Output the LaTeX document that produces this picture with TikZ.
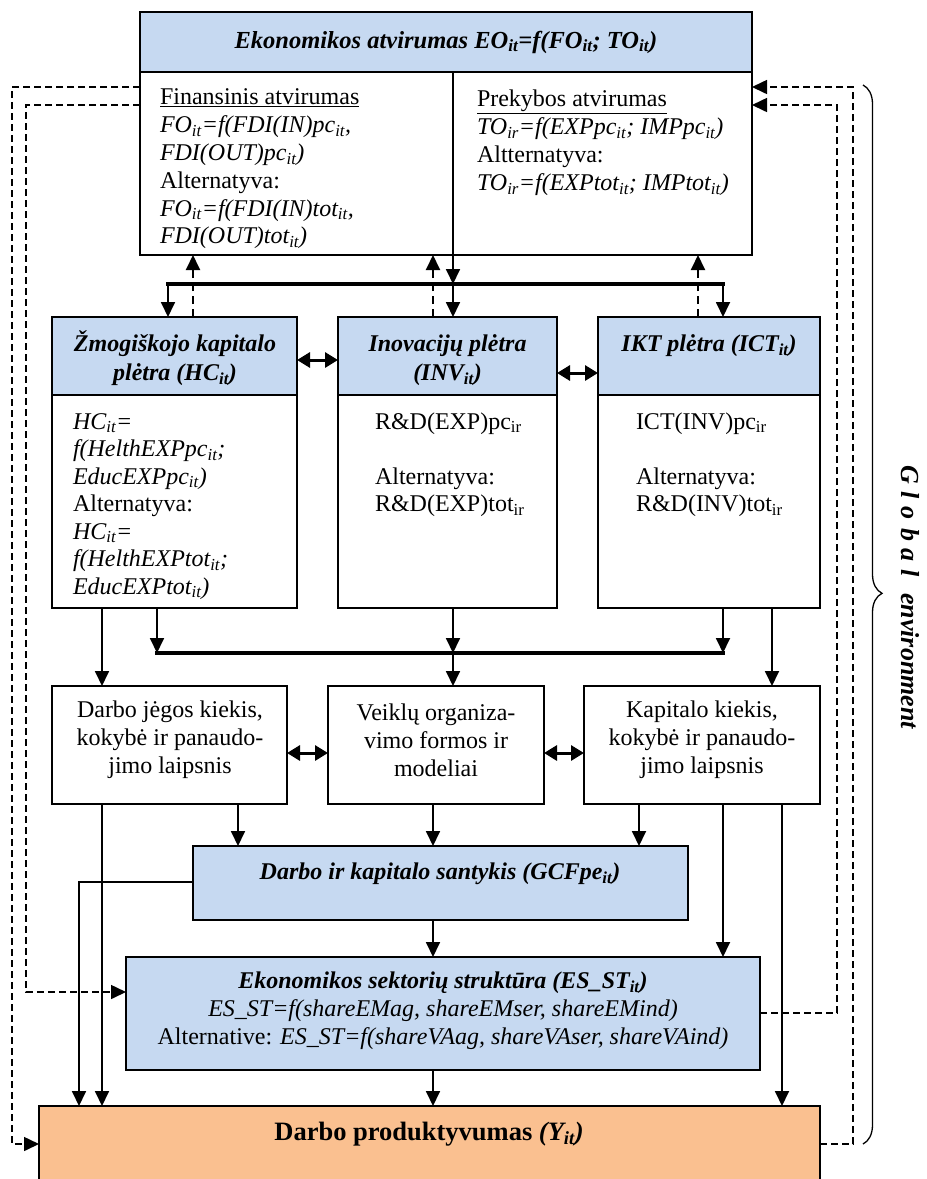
\documentclass[tikz,border=0pt]{standalone}
\usepackage{fontspec}
\setmainfont{Liberation Serif}
\usetikzlibrary{arrows.meta,decorations.pathreplacing,calc}
\definecolor{hblue}{HTML}{C6D9F1}
\definecolor{horange}{HTML}{FAC090}
\newcommand\sbs[1]{\textsubscript{#1}}
\newcommand\bodyf{\fontsize{24}{28}\selectfont}
\begin{document}
\begin{tikzpicture}[x=1pt,y=-1pt,
 box/.style={draw, line width=1.5pt, inner sep=0pt, outer sep=0pt, anchor=north west},
 hdr/.style={box, fill=hblue},
 txt/.style={inner sep=0pt, outer sep=0pt, font=\bodyf},
 arr/.style={line width=1.8pt, -{Triangle[length=15pt,width=14pt]}},
 bus/.style={line width=4pt, line cap=rect},
 dbl/.style={line width=3pt, {Triangle[length=13pt,width=15pt]}-{Triangle[length=13pt,width=15pt]}},
 darr/.style={line width=1.6pt, dash pattern=on 7pt off 4pt, -{Triangle[length=15pt,width=14pt]}},
 dup/.style={line width=2pt, dash pattern=on 8pt off 5pt, -{Triangle[length=15pt,width=14pt]}},
]
\useasboundingbox (0,0) rectangle (927,1179);
\clip (0,0) rectangle (927,1179);

% ---------- boxes ----------
\node[box, minimum width=612, minimum height=243] (EO) at (140,12) {};
\node[hdr, minimum width=612, minimum height=60] (EOh) at (140,12) {};

\node[hdr, minimum width=245, minimum height=78] (HCh) at (52,317) {};
\node[box, minimum width=245, minimum height=213] (HCb) at (52,395) {};
\node[hdr, minimum width=219, minimum height=78] (INVh) at (338,317) {};
\node[box, minimum width=219, minimum height=213] (INVb) at (338,395) {};
\node[hdr, minimum width=222, minimum height=78] (ICTh) at (598,317) {};
\node[box, minimum width=222, minimum height=213] (ICTb) at (598,395) {};

\node[box, minimum width=235, minimum height=118] (DJ) at (52,686) {};
\node[box, minimum width=216, minimum height=118] (VO) at (328,686) {};
\node[box, minimum width=236, minimum height=118] (KK) at (584,686) {};

\node[hdr, minimum width=495, minimum height=74] (GCF) at (193,846) {};
\node[hdr, minimum width=634, minimum height=113] (ES) at (126,957) {};
\node[box, fill=horange, minimum width=781, minimum height=110] (YP) at (39,1106) {};

% ---------- texts ----------
\node[txt, font=\fontsize{24.5}{28}\selectfont\bfseries\itshape] (tEO) at (446,42)
 {Ekonomikos atvirumas EO\sbs{it}=f(FO\sbs{it}; TO\sbs{it})};
\node[txt, anchor=north west, align=left, font=\fontsize{24}{27.8}\selectfont] (tFO) at (160,85.4)
 {\strut\underline{Finansinis atvirumas}\\
  \textit{FO\sbs{it}=f(FDI(IN)pc\sbs{it},}\\
  \textit{FDI(OUT)pc\sbs{it})}\\
  Alternatyva:\\
  \textit{FO\sbs{it}=f(FDI(IN)tot\sbs{it},}\\
  \textit{FDI(OUT)tot\sbs{it})}};
\node[txt, anchor=north west, align=left, font=\fontsize{24}{28.2}\selectfont] (tTO) at (477,86.4)
 {\strut\underline{Prekybos atvirumas}\\
  \textit{TO\sbs{ir}=f(EXPpc\sbs{it}; IMPpc\sbs{it})}\\
  Altternatyva:\\
  \textit{TO\sbs{ir}=f(EXPtot\sbs{it}; IMPtot\sbs{it})}};

\node[txt, anchor=north, align=center, font=\fontsize{24}{29}\selectfont\bfseries\itshape] (tHCh) at (175,331)
 {\strut Žmogiškojo kapitalo\\plėtra (HC\sbs{it})};
\node[txt, anchor=north, align=center, font=\fontsize{24}{29}\selectfont\bfseries\itshape] (tINVh) at (447.5,331)
 {\strut Inovacijų plėtra\\(INV\sbs{it})};
\node[txt, anchor=north, align=center, font=\fontsize{24}{29}\selectfont\bfseries\itshape] (tICTh) at (709,331)
 {\strut IKT plėtra (ICT\sbs{it})};

\node[txt, anchor=north west, align=left, font=\fontsize{24}{27.5}\selectfont] (tHCb) at (73,409.75)
 {\strut\textit{HC\sbs{it}=}\\
  \textit{f(HelthEXPpc\sbs{it};}\\
  \textit{EducEXPpc\sbs{it})}\\
  Alternatyva:\\
  \textit{HC\sbs{it}=}\\
  \textit{f(HelthEXPtot\sbs{it};}\\
  \textit{EducEXPtot\sbs{it})}};
\node[txt, anchor=north west, align=left, font=\fontsize{24}{27.5}\selectfont] (tINVb) at (375,409.75)
 {\strut R\&D(EXP)pc\sbs{ir}\\ \strut\\ Alternatyva:\\ R\&D(EXP)tot\sbs{ir}};
\node[txt, anchor=north west, align=left, font=\fontsize{24}{27.5}\selectfont] (tICTb) at (636,409.75)
 {\strut ICT(INV)pc\sbs{ir}\\ \strut\\ Alternatyva:\\ R\&D(INV)tot\sbs{ir}};

\node[txt, align=center] (tDJ) at (170,740) {Darbo jėgos kiekis,\\kokybė ir panaudo-\\jimo laipsnis};
\node[txt, align=center] (tVO) at (436,740) {Veiklų organiza-\\vimo formos ir\\modeliai};
\node[txt, align=center] (tKK) at (702,740) {Kapitalo kiekis,\\kokybė ir panaudo-\\jimo laipsnis};

\node[txt, font=\bodyf\bfseries\itshape] (tGCF) at (440,874) {Darbo ir kapitalo santykis (GCFpe\sbs{it})};
\node[txt, align=center] (tES) at (443,1011)
 {\textbf{\textit{Ekonomikos sektorių struktūra (ES\_ST\sbs{it})}}\\
  \textit{ES\_ST=f(shareEMag, shareEMser, shareEMind)}\\
  Alternative: \textit{ES\_ST=f(shareVAag, shareVAser, shareVAind)}};
\node[txt, font=\fontsize{26.5}{30}\selectfont\bfseries] (tYP) at (429,1134) {Darbo produktyvumas \textit{(Y\sbs{it})}};

\node[rotate=-90, inner sep=0pt, font=\fontsize{26}{30}\selectfont\bfseries\itshape] (GE) at (910,597)
 {G\hskip8pt l\hskip8pt o\hskip8pt b\hskip8pt a\hskip8pt l\hskip16pt environment};

% ---------- helper coordinates ----------
\coordinate (b1L) at (168,284);
\coordinate (b1M) at (453,284);
\coordinate (b1R) at (723,284);
\coordinate (b2L) at (157,653);
\coordinate (b2M) at (453,653);
\coordinate (b2R) at (723,653);
\coordinate (u1) at (193,0);
\coordinate (u2) at (433,0);
\coordinate (u3) at (698,0);
\coordinate (c12) at (12,0);
\coordinate (c26) at (26,0);
\coordinate (c79) at (79,0);
\coordinate (c102) at (102,0);
\coordinate (c238) at (238,0);
\coordinate (c433) at (433,0);
\coordinate (c639) at (639,0);
\coordinate (c723) at (723,0);
\coordinate (c772) at (772,0);
\coordinate (c782) at (782,0);
\coordinate (c837) at (837,0);
\coordinate (c853) at (853,0);
\coordinate (cy87) at (0,87);
\coordinate (cy105) at (0,105);
\coordinate (cy360) at (0,360);
\coordinate (cy373) at (0,373);
\coordinate (cy753) at (0,753);
\coordinate (cy882) at (0,882);
\coordinate (cy992) at (0,992);
\coordinate (cy1013) at (0,1013);
\coordinate (cy1144) at (0,1144);

% ---------- connectors ----------
\draw[line width=1.5pt] (b1M |- EOh.south) -- (b1M |- EO.south);
\draw[arr] (b1M |- EO.south) -- (b1M);
\draw[bus] (b1L) -- (b1R);
\draw[arr] (b1L) -- (b1L |- HCh.north);
\draw[arr] (b1M) -- (b1M |- INVh.north);
\draw[arr] (b1R) -- (b1R |- ICTh.north);

\draw[dup] (u1 |- HCh.north) -- (u1 |- EO.south);
\draw[dup] (u2 |- INVh.north) -- (u2 |- EO.south);
\draw[dup] (u3 |- ICTh.north) -- (u3 |- EO.south);

\draw[dbl] (HCh.east |- cy360) -- (INVh.west |- cy360);
\draw[dbl] (INVh.east |- cy373) -- (ICTh.west |- cy373);

\draw[arr] (b2L |- HCb.south) -- (b2L);
\draw[arr] (b2M |- INVb.south) -- (b2M);
\draw[arr] (b2R |- ICTb.south) -- (b2R);
\draw[bus] (b2L) -- (b2R);
\draw[arr] (b2M) -- (b2M |- VO.north);
\draw[arr] (c102 |- HCb.south) -- (c102 |- DJ.north);
\draw[arr] (c772 |- ICTb.south) -- (c772 |- KK.north);

\draw[dbl] (DJ.east |- cy753) -- (VO.west |- cy753);
\draw[dbl] (VO.east |- cy753) -- (KK.west |- cy753);

\draw[arr] (c238 |- DJ.south) -- (c238 |- GCF.north);
\draw[arr] (c433 |- VO.south) -- (c433 |- GCF.north);
\draw[arr] (c639 |- KK.south) -- (c639 |- GCF.north);
\draw[arr] (c723 |- KK.south) -- (c723 |- ES.north);
\draw[arr] (c782 |- KK.south) -- (c782 |- YP.north);
\draw[arr] (c102 |- DJ.south) -- (c102 |- YP.north);
\draw[arr] (GCF.west |- cy882) -- (c79 |- cy882) -- (c79 |- YP.north);
\draw[arr] (c433 |- GCF.south) -- (c433 |- ES.north);
\draw[arr] (c433 |- ES.south) -- (c433 |- YP.north);

\draw[darr] (EO.west |- cy87) -- (c12 |- cy87) -- (c12 |- cy1144) -- (YP.west |- cy1144);
\draw[darr] (EO.west |- cy105) -- (c26 |- cy105) -- (c26 |- cy992) -- (ES.west |- cy992);
\draw[darr] (ES.east |- cy1013) -- (c837 |- cy1013) -- (c837 |- cy105) -- (EO.east |- cy105);
\draw[darr] (YP.east |- cy1144) -- (c853 |- cy1144) -- (c853 |- cy87) -- (EO.east |- cy87);

% ---------- brace ----------
\coordinate (brT) at (863,85);
\coordinate (brB) at (863,1144);
\draw[line width=1.3pt, decorate, decoration={brace, amplitude=19pt, aspect=0.48}] (brT) -- (brB);
\end{tikzpicture}
\end{document}
